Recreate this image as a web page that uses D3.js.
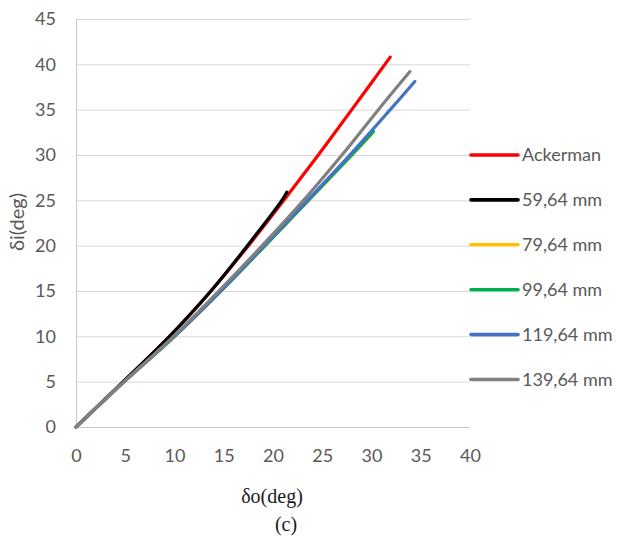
<!DOCTYPE html>
<html>
<head>
<meta charset="utf-8">
<script src="https://cdn.jsdelivr.net/npm/d3@7"></script>
<style>
  html, body { margin: 0; padding: 0; background: #fff; }
  svg { display: block; }
</style>
</head>
<body>
<svg id="chart" width="619" height="537"></svg>
<script>
// Outer wheel angle δo (deg) and inner wheel angle δi (deg) for each linkage
const seriesNames = ["Ackerman", "59,64 mm", "79,64 mm", "99,64 mm", "119,64 mm", "139,64 mm"];
const seriesColors = ["#ff0000", "#000000", "#ffc000", "#00b050", "#4472c4", "#808080"];

const ackermanDo = [0, 4.8, 9.5, 13.7, 17.5, 21.1, 24.6, 28.0, 31.9];
const ackermanDi = [0, 5, 10, 15, 20, 25, 30, 35, 40.8];

const l5964Do = [0, 4.8, 9.5, 13.7, 17.4, 20.9, 21.4];
const l5964Di = [0, 5, 10, 15, 20, 25, 25.9];

const l7964Do = [0, 4.9, 10.0, 14.7, 19.2, 23.6, 28.0, 30.0];
const l7964Di = [0, 5, 10, 15, 20, 25, 30, 32.3];

const l9964Do = [0, 4.9, 10.0, 14.7, 19.2, 23.6, 28.0, 30.2];
const l9964Di = [0, 5, 10, 15, 20, 25, 30, 32.6];

const l11964Do = [0, 4.9, 10.0, 14.7, 19.1, 23.5, 27.8, 31.9, 34.4];
const l11964Di = [0, 5, 10, 15, 20, 25, 30, 35, 38.1];

const l13964Do = [0, 4.9, 9.9, 14.5, 18.9, 23.1, 27.0, 30.7, 33.9];
const l13964Di = [0, 5, 10, 15, 20, 25, 30, 35, 39.2];

const xTicks = [0, 5, 10, 15, 20, 25, 30, 35, 40];
const yTicks = [0, 5, 10, 15, 20, 25, 30, 35, 40, 45];

const seriesX = [ackermanDo, l5964Do, l7964Do, l9964Do, l11964Do, l13964Do];
const seriesY = [ackermanDi, l5964Di, l7964Di, l9964Di, l11964Di, l13964Di];

const series = seriesNames.map((name, i) => ({
  name,
  color: seriesColors[i],
  points: seriesX[i].map((x, j) => [x, seriesY[i][j]])
}));

const svg = d3.select("#chart");
const plot = { left: 76, right: 470, top: 19, bottom: 427 };

const x = d3.scaleLinear().domain([0, 40]).range([plot.left, plot.right]);
const y = d3.scaleLinear().domain([0, 45]).range([plot.bottom, plot.top]);

const labelFont = "Lato, 'Open Sans', sans-serif";
const labelColor = "#595959";

// horizontal gridlines
svg.append("g")
  .selectAll("line")
  .data(yTicks)
  .join("line")
  .attr("x1", plot.left).attr("x2", plot.right)
  .attr("y1", d => y(d) + 0.5).attr("y2", d => y(d) + 0.5)
  .attr("stroke", d => d === 0 ? "#c8c8c8" : "#d9d9d9")
  .attr("stroke-width", 1);

// vertical axis line
svg.append("line")
  .attr("x1", plot.left + 0.5).attr("x2", plot.left + 0.5)
  .attr("y1", plot.top).attr("y2", plot.bottom + 1)
  .attr("stroke", "#c8c8c8");

// axes tick labels
const xAxis = svg.append("g")
  .attr("transform", `translate(0,${plot.bottom})`)
  .call(d3.axisBottom(x).tickValues(xTicks).tickSize(0).tickPadding(22));
xAxis.select(".domain").remove();
xAxis.selectAll("text")
  .attr("fill", labelColor)
  .style("font-family", labelFont)
  .style("font-size", "18px");

const yAxis = svg.append("g")
  .attr("transform", `translate(${plot.left},0)`)
  .call(d3.axisLeft(y).tickValues(yTicks).tickSize(0).tickPadding(20));
yAxis.select(".domain").remove();
yAxis.selectAll("text")
  .attr("fill", labelColor)
  .style("font-family", labelFont)
  .style("font-size", "18px");

// series curves
const line = d3.line()
  .x(d => x(d[0]))
  .y(d => y(d[1]))
  .curve(d3.curveCatmullRom.alpha(0.5));

svg.append("g")
  .selectAll("path")
  .data(series)
  .join("path")
  .attr("d", d => line(d.points))
  .attr("fill", "none")
  .attr("stroke", d => d.color)
  .attr("stroke-width", 3.2)
  .attr("stroke-linecap", "round")
  .attr("stroke-linejoin", "round");

// legend
const legend = svg.append("g")
  .selectAll("g")
  .data(series)
  .join("g")
  .attr("transform", (d, i) => `translate(471,${155 + i * 44.9})`);

legend.append("line")
  .attr("x1", 0).attr("x2", 47)
  .attr("stroke", d => d.color)
  .attr("stroke-width", 3.6)
  .attr("stroke-linecap", "round");

legend.append("text")
  .attr("x", 51)
  .attr("dy", "0.35em")
  .attr("fill", labelColor)
  .style("font-family", labelFont)
  .style("font-size", "18px")
  .text(d => d.name);

// axis titles
svg.append("text")
  .attr("transform", "translate(24,222) rotate(-90)")
  .attr("text-anchor", "middle")
  .attr("fill", labelColor)
  .style("font-family", labelFont)
  .style("font-size", "20px")
  .text("δi(deg)");

svg.append("text")
  .attr("x", 272).attr("y", 503)
  .attr("text-anchor", "middle")
  .attr("fill", "#1a1a1a")
  .style("font-family", "'Liberation Serif', 'Times New Roman', serif")
  .style("font-size", "20px")
  .text("δo(deg)");

svg.append("text")
  .attr("x", 286).attr("y", 531)
  .attr("text-anchor", "middle")
  .attr("fill", "#1a1a1a")
  .style("font-family", "'Liberation Serif', 'Times New Roman', serif")
  .style("font-size", "20px")
  .text("(c)");
</script>
</body>
</html>
